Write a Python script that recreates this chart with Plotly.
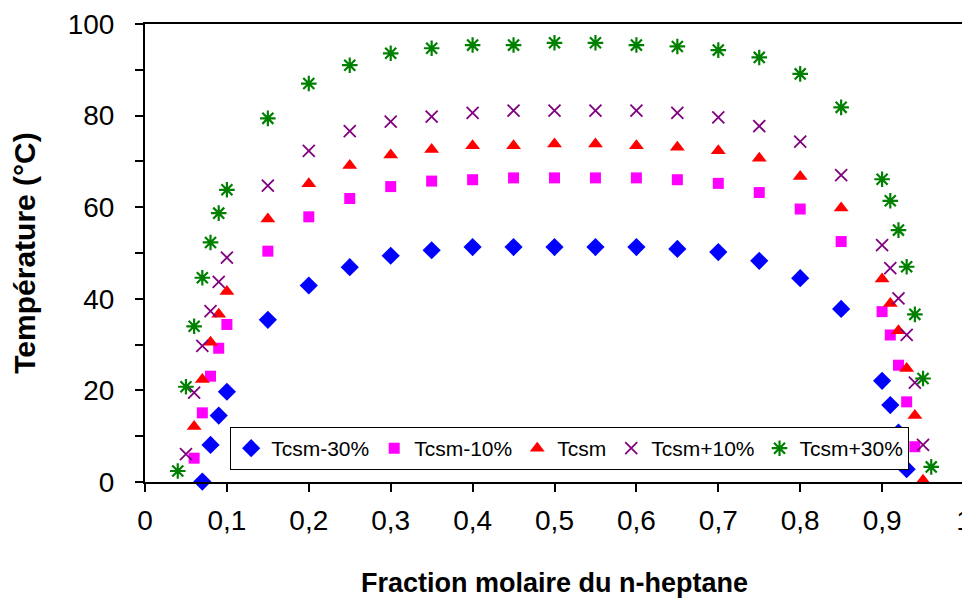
import plotly.graph_objects as go

# fraction molaire du n-heptane
x_m30 = [0.07, 0.08, 0.09, 0.1, 0.15, 0.2, 0.25, 0.3, 0.35, 0.4, 0.45, 0.5, 0.55, 0.6,
         0.65, 0.7, 0.75, 0.8, 0.85, 0.9, 0.91, 0.92, 0.93]
y_m30 = [0.1, 8.1, 14.5, 19.7, 35.4, 42.9, 46.9, 49.4, 50.6, 51.3, 51.3, 51.3, 51.3, 51.3,
         50.9, 50.2, 48.3, 44.5, 37.8, 22.1, 16.8, 10.8, 2.8]

x_m10 = [0.06, 0.07, 0.08, 0.09, 0.1, 0.15, 0.2, 0.25, 0.3, 0.35, 0.4, 0.45, 0.5, 0.55, 0.6,
         0.65, 0.7, 0.75, 0.8, 0.85, 0.9, 0.91, 0.92, 0.93, 0.94]
y_m10 = [5.2, 15.1, 23.1, 29.2, 34.4, 50.4, 57.9, 61.9, 64.5, 65.7, 66.0, 66.4, 66.4, 66.4, 66.4,
         66.0, 65.2, 63.2, 59.6, 52.5, 37.2, 32.1, 25.5, 17.5, 7.7]

x_0 = [0.06, 0.07, 0.08, 0.09, 0.1, 0.15, 0.2, 0.25, 0.3, 0.35, 0.4, 0.45, 0.5, 0.55, 0.6,
       0.65, 0.7, 0.75, 0.8, 0.85, 0.9, 0.91, 0.92, 0.93, 0.94, 0.95]
y_0 = [12.1, 22.4, 30.5, 36.6, 41.6, 57.4, 65.1, 69.1, 71.4, 72.6, 73.4, 73.4, 73.8, 73.8, 73.4,
       73.1, 72.3, 70.7, 66.7, 59.8, 44.3, 39.0, 33.0, 24.8, 14.5, 0.4]

x_p10 = [0.05, 0.06, 0.07, 0.08, 0.09, 0.1, 0.15, 0.2, 0.25, 0.3, 0.35, 0.4, 0.45, 0.5, 0.55, 0.6,
         0.65, 0.7, 0.75, 0.8, 0.85, 0.9, 0.91, 0.92, 0.93, 0.94, 0.95]
y_p10 = [6.1, 19.5, 29.7, 37.3, 43.7, 49.0, 64.7, 72.3, 76.6, 78.7, 79.8, 80.6, 81.1, 81.1, 81.1, 81.1,
         80.6, 79.6, 77.7, 74.3, 67.0, 51.7, 46.7, 40.1, 32.1, 21.7, 8.1]

x_p30 = [0.04, 0.05, 0.06, 0.07, 0.08, 0.09, 0.1, 0.15, 0.2, 0.25, 0.3, 0.35, 0.4, 0.45, 0.5, 0.55, 0.6,
         0.65, 0.7, 0.75, 0.8, 0.85, 0.9, 0.91, 0.92, 0.93, 0.94, 0.95, 0.96]
y_p30 = [2.4, 20.8, 34.0, 44.6, 52.3, 58.7, 63.8, 79.4, 87.0, 91.0, 93.6, 94.7, 95.4, 95.4, 95.9, 95.9, 95.4,
         95.1, 94.3, 92.7, 89.1, 81.8, 66.1, 61.4, 55.0, 47.0, 36.6, 22.6, 3.3]

FONT = "Arial, Liberation Sans, sans-serif"

fig = go.Figure()

fig.add_trace(go.Scatter(x=x_m30, y=y_m30, mode="markers", name="Tcsm-30%", cliponaxis=False,
                         marker=dict(symbol="diamond", size=14, color="#0000FF")))
fig.add_trace(go.Scatter(x=x_m10, y=y_m10, mode="markers", name="Tcsm-10%", cliponaxis=False,
                         marker=dict(symbol="square", size=11, color="#FF00FF")))
fig.add_trace(go.Scatter(x=x_0, y=y_0, mode="markers", name="Tcsm", cliponaxis=False,
                         marker=dict(symbol="triangle-up", size=13, color="#FF0000")))
fig.add_trace(go.Scatter(x=x_p10, y=y_p10, mode="markers", name="Tcsm+10%", cliponaxis=False,
                         marker=dict(symbol="x-thin-open", size=12, color="#800080",
                                     line=dict(color="#800080", width=1.8))))
fig.add_trace(go.Scatter(x=x_p30, y=y_p30, mode="markers", name="Tcsm+30%", cliponaxis=False,
                         marker=dict(symbol="asterisk-open", size=13, color="#008000",
                                     line=dict(color="#008000", width=2.2))))

# the page body adds an 8px offset, so the figure is sized to fit the window
fig.update_layout(
    width=962,
    height=591,
    plot_bgcolor="white",
    paper_bgcolor="white",
    separators=", ",
    font=dict(family=FONT, color="black"),
    margin=dict(l=137, r=6, t=16, b=117, autoexpand=False),
    showlegend=True,
    legend=dict(
        orientation="h",
        x=0.104, y=0.12, xanchor="left", yanchor="top",
        bgcolor="white", bordercolor="black", borderwidth=1,
        font=dict(size=21, family=FONT),
        itemwidth=30,
    ),
)

fig.update_xaxes(
    range=[0, 1], dtick=0.1, tick0=0,
    showgrid=False, zeroline=False,
    showline=True, linecolor="black", linewidth=2, mirror=True,
    ticks="outside", ticklen=8, tickcolor="black", tickwidth=1.5,
    tickfont=dict(size=28, family=FONT),
    ticklabelstandoff=4,
    ticklabeloverflow="allow",
    title=dict(text="<b>Fraction molaire du n-heptane</b>", font=dict(size=27, family=FONT), standoff=39),
)
fig.update_yaxes(
    range=[0, 100], dtick=20, tick0=0,
    showgrid=False, zeroline=False,
    showline=True, linecolor="black", linewidth=2, mirror=True,
    ticks="outside", ticklen=8, tickcolor="black", tickwidth=1.5,
    minor=dict(dtick=10, ticks="outside", ticklen=8, tickcolor="black", tickwidth=1.5),
    tickfont=dict(size=28, family=FONT),
    ticklabelstandoff=15,
    title=dict(text="<b>Température (°C)</b>", font=dict(size=30, family=FONT), standoff=25),
)

fig.write_html("out.html")
